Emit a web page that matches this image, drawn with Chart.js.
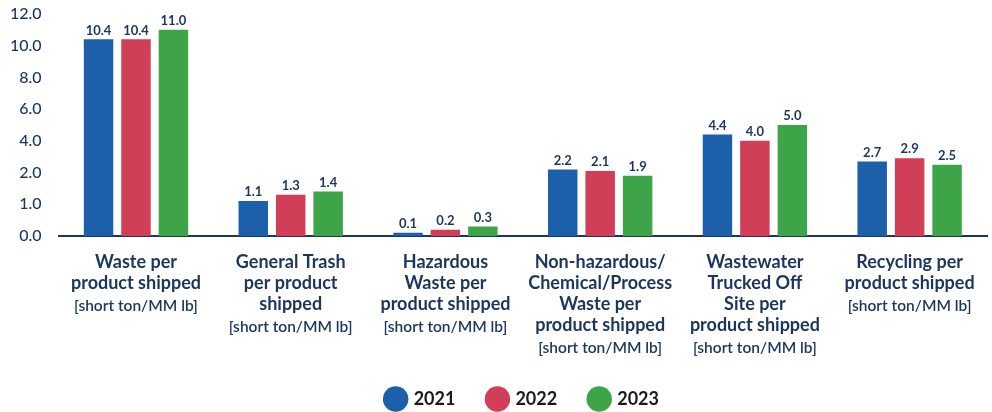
<!DOCTYPE html>
<html>
<head>
<meta charset="utf-8">
<script src="https://cdn.jsdelivr.net/npm/chart.js@4/dist/chart.umd.min.js"></script>
<style>
  html, body { margin: 0; padding: 0; background: #ffffff; }
  #wrap { width: 992px; height: 412px; position: relative; }
</style>
</head>
<body>
<div id="wrap"><canvas id="c"></canvas></div>
<script>
// ---- data ----
const CATEGORIES = [
  ["Waste per", "product shipped"],
  ["General Trash", "per product", "shipped"],
  ["Hazardous", "Waste per", "product shipped"],
  ["Non-hazardous/", "Chemical/Process", "Waste per", "product shipped"],
  ["Wastewater", "Trucked Off", "Site per", "product shipped"],
  ["Recycling per", "product shipped"]
];
const UNIT_LABEL = "[short ton/MM lb]";
const SERIES_NAMES = ["2021", "2022", "2023"];
const VALUES_2021 = [10.4, 1.1, 0.1, 2.2, 4.4, 2.7];
const VALUES_2022 = [10.4, 1.3, 0.2, 2.1, 4.0, 2.9];
const VALUES_2023 = [11.0, 1.4, 0.3, 1.9, 5.0, 2.5];
const Y_TICKS = [0, 1, 2, 4, 6, 8, 10, 12];

// ---- styles ----
const NAVY = '#1b365d';
const COLORS = ['#1c5faa', '#d13e58', '#3da548'];

// Piecewise axis: tick labels are evenly spaced, values interpolated between them
class PiecewiseScale extends Chart.LinearScale {
  buildTicks() { return Y_TICKS.map(v => ({ value: v })); }
  _frac(v) {
    const n = Y_TICKS.length - 1;
    if (v <= Y_TICKS[0]) return 0;
    for (let i = 0; i < n; i++) {
      if (v <= Y_TICKS[i + 1]) return (i + (v - Y_TICKS[i]) / (Y_TICKS[i + 1] - Y_TICKS[i])) / n;
    }
    return 1;
  }
  getPixelForValue(value) {
    if (value === null || value === undefined || isNaN(value)) return NaN;
    return this.getPixelForDecimal(this._frac(value));
  }
  getValueForPixel(pixel) {
    const n = Y_TICKS.length - 1;
    const d = this.getDecimalForPixel(pixel) * n;
    const i = Math.max(0, Math.min(n - 1, Math.floor(d)));
    return Y_TICKS[i] + (d - i) * (Y_TICKS[i + 1] - Y_TICKS[i]);
  }
}
PiecewiseScale.id = 'piecewise';
PiecewiseScale.defaults = Chart.LinearScale.defaults;
Chart.register(PiecewiseScale);

const X_TICK_PAD = 16;
const X_LINE_H = 21;
const X_FONT = 18;

const valueLabels = {
  id: 'valueLabels',
  afterDatasetsDraw(chart) {
    const ctx = chart.ctx;
    ctx.save();
    ctx.font = 'bold 13px Lato';
    ctx.fillStyle = NAVY;
    ctx.textAlign = 'center';
    ctx.textBaseline = 'middle';
    chart.data.datasets.forEach((ds, di) => {
      const meta = chart.getDatasetMeta(di);
      meta.data.forEach((el, i) => {
        ctx.fillText(ds.data[i].toFixed(1), el.x, el.y - 9);
      });
    });
    ctx.restore();
  }
};

const unitLabels = {
  id: 'unitLabels',
  afterDraw(chart) {
    const ctx = chart.ctx;
    const xs = chart.scales.x;
    ctx.save();
    ctx.font = '600 15.5px Lato';
    ctx.fillStyle = NAVY;
    ctx.textAlign = 'center';
    ctx.textBaseline = 'middle';
    CATEGORIES.forEach((lines, i) => {
      const x = xs.getPixelForTick(i);
      const y = xs.top + X_TICK_PAD + X_LINE_H / 2 + lines.length * X_LINE_H + 1.5;
      ctx.fillText(UNIT_LABEL, x, y);
    });
    ctx.restore();
  }
};

new Chart(document.getElementById('c'), {
  type: 'bar',
  data: {
    labels: CATEGORIES,
    datasets: [
      { label: SERIES_NAMES[0], data: VALUES_2021, backgroundColor: COLORS[0] },
      { label: SERIES_NAMES[1], data: VALUES_2022, backgroundColor: COLORS[1] },
      { label: SERIES_NAMES[2], data: VALUES_2023, backgroundColor: COLORS[2] }
    ]
  },
  options: {
    responsive: true,
    maintainAspectRatio: false,
    animation: false,
    datasets: { bar: { categoryPercentage: 0.726, barPercentage: 0.787 } },
    layout: { padding: { top: 14, left: 10, right: 5, bottom: 0 } },
    scales: {
      x: {
        grid: { display: false, drawTicks: false },
        border: { display: true, color: NAVY, width: 2 },
        ticks: {
          autoSkip: false, maxRotation: 0, minRotation: 0,
          padding: X_TICK_PAD,
          color: NAVY,
          font: { family: 'Lato', size: X_FONT, weight: 'bold', lineHeight: X_LINE_H / X_FONT }
        },
        afterFit(scale) { scale.height = 121; scale.paddingLeft = 0; scale.paddingRight = 0; }
      },
      y: {
        type: 'piecewise',
        min: 0, max: 12,
        grid: { display: false, drawTicks: false },
        border: { display: false },
        ticks: {
          padding: 17,
          color: NAVY,
          font: { family: 'Lato', size: 16, weight: '500' },
          callback: v => Number(v).toFixed(1)
        },
        afterFit(scale) {
          scale.width -= scale.options.ticks.padding;
          scale.paddingTop = 0; scale.paddingBottom = 0;
        }
      }
    },
    plugins: {
      legend: {
        position: 'bottom',
        fullSize: false,
        maxHeight: 55,
        labels: {
          usePointStyle: true,
          pointStyle: 'circle',
          padding: 33,
          color: '#1a1a1a',
          font: { family: 'Lato', size: 18, weight: 'bold' }
        }
      },
      tooltip: { enabled: false }
    }
  },
  plugins: [valueLabels, unitLabels]
});
</script>
</body>
</html>
